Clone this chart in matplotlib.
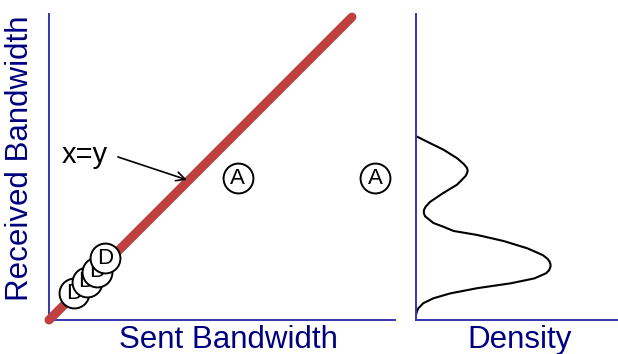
import matplotlib

matplotlib.use("Agg")
import matplotlib.pyplot as plt  # noqa: E402

plt.rcParams["font.family"] = ["Liberation Sans", "DejaVu Sans"]

# bandwidth points (sent, received) in axis units
d_sent = [0.082, 0.123, 0.156, 0.183]
d_recv = [0.088, 0.125, 0.158, 0.202]
a_sent = [0.616, 1.065]
a_recv = [0.464, 0.464]

# density of received bandwidth
dens_y = [0.600, 0.578, 0.557, 0.529, 0.510, 0.498, 0.488, 0.478, 0.470, 0.442,
          0.415, 0.386, 0.370, 0.360, 0.350, 0.339, 0.317, 0.305, 0.291, 0.278,
          0.258, 0.234, 0.212, 0.200, 0.191, 0.182, 0.174, 0.163, 0.153, 0.136,
          0.120, 0.104, 0.087, 0.071, 0.055, 0.038, 0.026, 0.016]
dens_x = [0.5, 10.5, 20.3, 30.5, 35.5, 37.8, 38.5, 37.8, 36.8, 30.5,
          20.3, 10.5, 7.2, 6.0, 5.9, 6.8, 13.0, 20.3, 28.0, 45.5,
          65.3, 83.0, 94.3, 97.8, 99.3, 100.0, 100.0, 99.0, 96.8, 88.0,
          70.5, 45.5, 25.5, 13.0, 5.5, 1.7, 0.6, 0.0]

identity = [0.0, 0.99]

navy = "#000080"
spine_col = "#3535b0"
red = "#c04040"

fig = plt.figure(figsize=(6.18, 3.54), dpi=100)
ax = fig.add_axes([0.0793, 0.096, 0.5599, 0.8644])
axd = fig.add_axes([0.673, 0.096, 0.330, 0.8644])

for a in (ax, axd):
    for s in ("top", "right"):
        a.spines[s].set_visible(False)
    for s in ("left", "bottom"):
        a.spines[s].set_color(spine_col)
        a.spines[s].set_linewidth(1.4)
    a.set_xticks([])
    a.set_yticks([])

ax.set_xlim(0, 346 / 306)
ax.set_ylim(0, 1)

ax.plot(identity, identity, color=red, lw=6.5, solid_capstyle="round",
        clip_on=False, zorder=3)

for i, (x, y) in enumerate(zip(d_sent, d_recv)):
    ax.plot(x, y, "o", ms=21.5, mfc="white", mec="black", mew=1.4, zorder=5 + i)
    ax.text(x, y, "D", ha="center", va="center", fontsize=16, zorder=5 + i)
for x, y in zip(a_sent, a_recv):
    ax.plot(x, y, "o", ms=21.5, mfc="white", mec="black", mew=1.4, zorder=5)
    ax.text(x, y, "A", ha="center", va="center", fontsize=16, zorder=6)

ax.text(0.042, 0.539, "x=y", ha="left", va="center", fontsize=21)
ax.annotate("", xy=(0.451, 0.458), xytext=(0.225, 0.533),
            arrowprops=dict(arrowstyle="->", color="black", lw=1.2,
                            mutation_scale=16, shrinkA=0, shrinkB=0))

ax.set_xlabel("Sent Bandwidth", fontsize=22.5, color=navy)
ax.xaxis.set_label_coords(0.52, -0.015)
ax.xaxis.label.set_va("top")
ax.set_ylabel("Received Bandwidth", fontsize=22.5, color=navy)
ax.yaxis.set_label_coords(-0.04, 0.53)

axd.plot(dens_x, dens_y, color="black", lw=1.5)
axd.set_xlim(0, 202 / 1.333)
axd.set_ylim(0, 1)
axd.set_xlabel("Density", fontsize=22.5, color=navy)
axd.xaxis.set_label_coords(0.51, -0.015)
axd.xaxis.label.set_va("top")

fig.savefig("out.png", dpi=100)
